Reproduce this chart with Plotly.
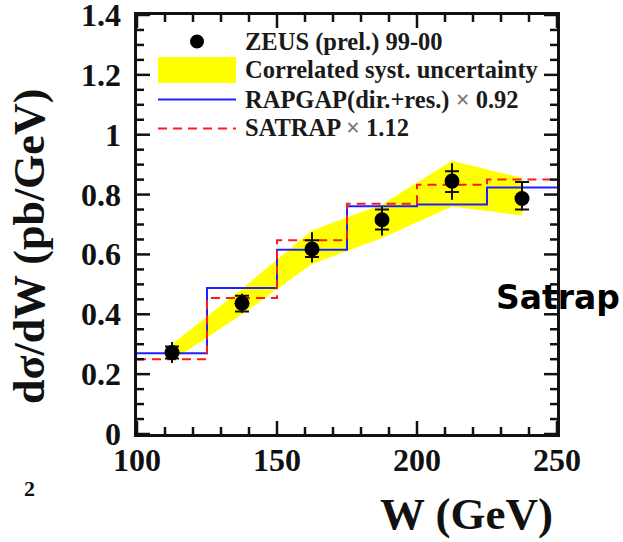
import plotly.graph_objects as go

# ZEUS W distribution: bin edges, centres, measured points and uncertainties
bin_edges = [100, 125, 150, 175, 200, 225, 250]
w_centres = [112.5, 137.5, 162.5, 187.5, 212.5, 237.5]
zeus_xsec = [0.272, 0.437, 0.618, 0.716, 0.845, 0.787]
stat_up = [0.020, 0.025, 0.029, 0.034, 0.033, 0.055]
stat_dn = [0.020, 0.028, 0.027, 0.033, 0.036, 0.037]
tot_up = [0.035, 0.032, 0.056, 0.043, 0.060, 0.058]
tot_dn = [0.035, 0.032, 0.045, 0.053, 0.062, 0.040]

# correlated systematic band (upper / lower edge at each bin centre)
band_hi = [0.300, 0.485, 0.680, 0.767, 0.913, 0.856]
band_lo = [0.245, 0.400, 0.568, 0.655, 0.760, 0.730]

# model predictions per bin
rapgap = [0.270, 0.488, 0.616, 0.761, 0.767, 0.824]
satrap = [0.250, 0.454, 0.647, 0.769, 0.833, 0.850]

# axis ticks (major carry labels)
x_ticks = [100, 150, 200, 250]
x_minor = [110, 120, 130, 140, 160, 170, 180, 190, 210, 220, 230, 240]
y_ticks = [0, 0.2, 0.4, 0.6, 0.8, 1.0, 1.2, 1.4]
y_minor = [0.05, 0.1, 0.15, 0.25, 0.3, 0.35, 0.45, 0.5, 0.55, 0.65, 0.7,
           0.75, 0.85, 0.9, 0.95, 1.05, 1.1, 1.15, 1.25, 1.3, 1.35]

SERIF = "Liberation Serif"
INK = "#111111"
MAJOR_LEN, MINOR_LEN = 13, 7

# plot area in pixels
L, R, T, B = 137, 557, 15, 434
W_FIG, H_FIG = 623, 542
X_RANGE = [x_ticks[0], x_ticks[-1]]
Y_RANGE = [y_ticks[0], y_ticks[-1]]
X_PER_PX = (X_RANGE[1] - X_RANGE[0]) / (R - L)
Y_PER_PX = (Y_RANGE[1] - Y_RANGE[0]) / (B - T)


def px(xp):
    return (xp - L) / (R - L)


def py(yp):
    return (B - yp) / (B - T)


fig = go.Figure()

fig.add_trace(go.Scatter(
    x=w_centres + w_centres[::-1],
    y=band_hi + band_lo[::-1],
    fill="toself", fillcolor="#ffff00", line=dict(width=0),
    mode="lines", hoverinfo="skip", showlegend=False,
))

fig.add_trace(go.Scatter(
    x=bin_edges, y=rapgap + rapgap[-1:], mode="lines", line_shape="hv",
    line=dict(color="#2020ff", width=2), showlegend=False,
))
fig.add_trace(go.Scatter(
    x=bin_edges, y=satrap + satrap[-1:], mode="lines", line_shape="hv",
    line=dict(color="#ff1a1a", width=2, dash="9px,6px"), showlegend=False,
))

# total uncertainty (plain bar) and statistical uncertainty (with crossbars)
fig.add_trace(go.Scatter(
    x=w_centres, y=zeus_xsec, mode="markers", marker=dict(size=1, color=INK),
    error_y=dict(type="data", symmetric=False, array=tot_up, arrayminus=tot_dn,
                 color=INK, thickness=2, width=0),
    showlegend=False,
))
fig.add_trace(go.Scatter(
    x=w_centres, y=zeus_xsec, mode="markers",
    marker=dict(size=15, color="black"),
    error_y=dict(type="data", symmetric=False, array=stat_up, arrayminus=stat_dn,
                 color=INK, thickness=2, width=7),
    showlegend=False,
))

# inside tick marks on all four sides of the frame, as one line trace
tx, ty = [], []
for vals, length in ((x_ticks, MAJOR_LEN), (x_minor, MINOR_LEN)):
    dy = length * Y_PER_PX
    for v in vals:
        tx += [v, v, None, v, v, None]
        ty += [Y_RANGE[0], Y_RANGE[0] + dy, None,
               Y_RANGE[1], Y_RANGE[1] - dy, None]
for vals, length in ((y_ticks, MAJOR_LEN), (y_minor, MINOR_LEN)):
    dx = length * X_PER_PX
    for v in vals:
        tx += [X_RANGE[0], X_RANGE[0] + dx, None,
               X_RANGE[1], X_RANGE[1] - dx, None]
        ty += [v, v, None, v, v, None]
fig.add_trace(go.Scatter(
    x=tx, y=ty, mode="lines", line=dict(color=INK, width=2.5),
    hoverinfo="skip", showlegend=False, cliponaxis=False,
))

shapes = []
annotations = []

tick_font = dict(family=SERIF, size=32, color=INK, weight="bold")
for v in x_ticks:
    annotations.append(dict(text=f"{v:g}", xref="x", yref="paper", x=v,
                            y=py(460), xanchor="center", yanchor="middle",
                            showarrow=False, font=tick_font))
for v in y_ticks:
    annotations.append(dict(text=f"{v:g}", xref="paper", yref="y", x=px(123),
                            y=v, xanchor="right", yanchor="middle",
                            showarrow=False, font=tick_font))

# legend key
shapes.append(dict(type="circle", xref="paper", yref="paper",
                   xsizemode="pixel", ysizemode="pixel",
                   xanchor=px(197), yanchor=py(41.5),
                   x0=-7, x1=7, y0=-7, y1=7,
                   fillcolor="black", line=dict(width=0)))
shapes.append(dict(type="rect", xref="paper", yref="paper",
                   x0=px(158), x1=px(236), y0=py(83), y1=py(57),
                   fillcolor="#ffff00", line=dict(width=0)))
shapes.append(dict(type="line", xref="paper", yref="paper",
                   x0=px(158), x1=px(236), y0=py(99.5), y1=py(99.5),
                   line=dict(color="#2020ff", width=2)))
shapes.append(dict(type="line", xref="paper", yref="paper",
                   x0=px(158), x1=px(236), y0=py(128.5), y1=py(128.5),
                   line=dict(color="#ff1a1a", width=2, dash="9px,6px")))

legend_rows = [
    ("ZEUS (prel.) 99-00", 41.5),
    ("Correlated syst. uncertainty", 70),
    ("RAPGAP(dir.+res.) <span style='color:#777777'>×</span> 0.92", 99.5),
    ("SATRAP <span style='color:#777777'>×</span> 1.12", 127.5),
]
for text, yp in legend_rows:
    annotations.append(dict(
        text=text, xref="paper", yref="paper", x=px(243), y=py(yp),
        xanchor="left", yanchor="middle", showarrow=False,
        font=dict(family=SERIF, size=24.5, color="#1a1a1a", weight="bold"),
    ))

annotations.append(dict(
    text="W (GeV)", xref="paper", yref="paper", x=px(555), y=py(514),
    xanchor="right", yanchor="middle", showarrow=False,
    font=dict(family=SERIF, size=45, color=INK, weight="bold"),
))
annotations.append(dict(
    text="dσ/dW (pb/GeV)", xref="paper", yref="paper", x=px(30), y=py(247),
    xanchor="center", yanchor="middle", showarrow=False, textangle=-90,
    font=dict(family=SERIF, size=44, color=INK, weight="bold"),
))
annotations.append(dict(
    text="Satrap", xref="paper", yref="paper", x=px(622), y=py(297),
    xanchor="right", yanchor="middle", showarrow=False,
    font=dict(family="Comic Sans MS, DejaVu Sans", size=33, color="black",
              weight="bold"),
))
annotations.append(dict(
    text="2", xref="paper", yref="paper", x=px(29), y=py(488),
    xanchor="center", yanchor="middle", showarrow=False,
    font=dict(family=SERIF, size=22, color=INK, weight="bold"),
))

axis_common = dict(
    showgrid=False, zeroline=False, showline=True, linecolor=INK,
    linewidth=2.5, mirror=True, ticks="", showticklabels=False,
)

fig.update_layout(
    width=W_FIG, height=H_FIG,
    margin=dict(l=L, r=W_FIG - R, t=T, b=H_FIG - B),
    paper_bgcolor="white", plot_bgcolor="white",
    showlegend=False,
    shapes=shapes, annotations=annotations,
    xaxis=dict(range=X_RANGE, **axis_common),
    yaxis=dict(range=Y_RANGE, **axis_common),
)

fig.write_html("out.html")
